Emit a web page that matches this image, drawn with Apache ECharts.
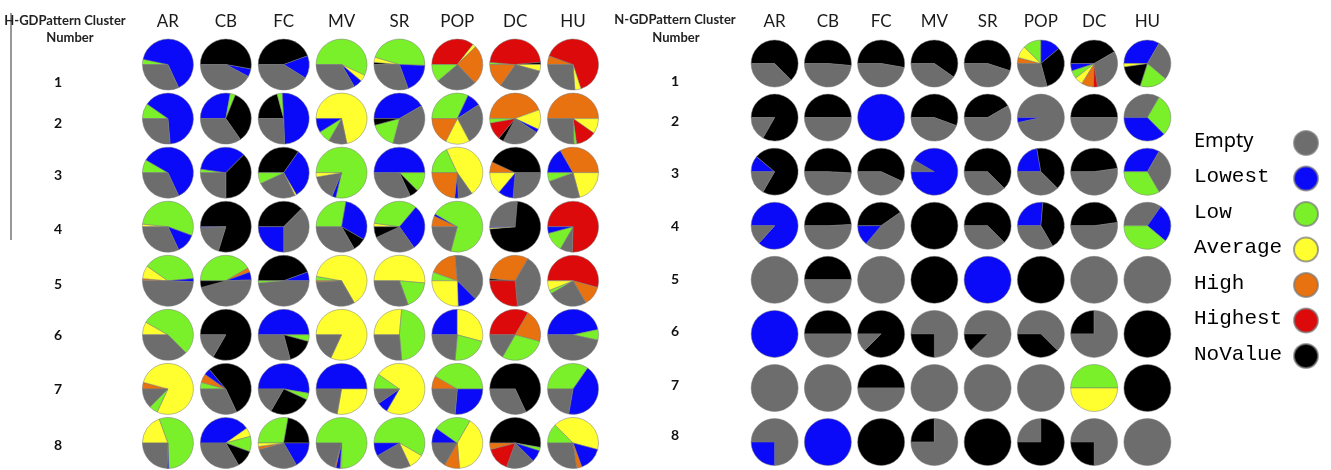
<!DOCTYPE html>
<html>
<head>
<meta charset="utf-8">
<script src="https://cdn.jsdelivr.net/npm/echarts@6/dist/echarts.min.js"></script>
<style>
    html, body { margin: 0; padding: 0; background: #fff; }
    #chart { width: 1331px; height: 470px; }
</style>
</head>
<body>
<div id="chart"></div>
<script>
// columns / rows of both pie matrices
const columns = ['AR', 'CB', 'FC', 'MV', 'SR', 'POP', 'DC', 'HU'];
const rowLabels = ['1', '2', '3', '4', '5', '6', '7', '8'];

// legend categories and the one-letter code used in the pie specs below
const categories = ['Empty', 'Lowest', 'Low', 'Average', 'High', 'Highest', 'NoValue'];
const codes = ['E', 'B', 'G', 'Y', 'O', 'R', 'K'];
const colors = ['#6d6d6d', '#0a0af8', '#7af02a', '#ffff30', '#e8720f', '#dc0a0a', '#000000'];

// each pie: slices clockwise from 9 o'clock, value in degrees (sum 360)
const hPies = [
    ['G12 B233 E115', 'K190 B18 E152', 'K160 B52 E148', 'G205 Y15 B20 E120', 'K5 Y12 G165 B68 E110', 'R128 Y8 O90 E94 G40', 'G5 R170 K5 Y15 E110 O55', 'O20 R232 Y14 E94'],
    ['G35 B230 E95', 'B100 G12 K123 E125', 'K75 G12 B181 E92', 'Y258 E42 G28 B32', 'B150 E135 G60 K15', 'G115 B32 E95 Y55 O63', 'O160 Y45 B8 E85 K12 R40 G10', 'O180 Y35 R47 G6 E92'],
    ['G30 B215 E115', 'G8 B127 K135 E90', 'K125 B115 Y4 E91 G25', 'G283 B9 E58 Y10', 'B180 G45 K20 E115', 'G65 Y170 E33 B8 O84', 'O25 K155 E95 B35 Y50', 'B60 O120 Y75 E85 G20'],
    ['Y6 G194 B45 E115', 'K287 E71 B2', 'K135 E135 B90', 'G100 B110 K30 E120', 'Y8 G122 B105 E100 K25', 'O25 B5 G255 E75', 'E95 K260 Y3 B2', 'R272 E28 G45 B15'],
    ['O5 Y30 G140 B7 E178', 'G150 O10 B18 E167 K15', 'K160 B20 E175 G5', 'G10 Y230 E117 O3', 'Y185 G65 E110', 'G20 O65 E140 B43 Y92', 'K5 O115 E145 R95', 'R195 O45 E90 G8 Y22'],
    ['Y30 G195 E135', 'K300 E60', 'B180 G15 K60 E105', 'Y295 E65', 'Y95 G170 E95', 'B90 Y105 G80 E85', 'R120 O75 G105 E60', 'B168 G24 E168'],
    ['O15 Y280 G20 E45', 'G15 O20 B15 K195 E115', 'B190 G15 K95 E60', 'B180 Y100 E80', 'G35 Y265 B25 E35', 'O30 G150 B95 E85', 'K245 E115', 'G125 B155 E80'],
    ['Y70 G198 B4 E88', 'B145 Y20 G35 K40 E120', 'G100 K80 B60 E105 O7 Y8', 'G270 Y3 B10 O3 E74', 'G210 Y35 E85 B30', 'B35 G85 Y145 O35 E60', 'K190 G8 B27 E65 R55 O15', 'G45 Y150 B55 O12 E98']
];

const nPies = [
    ['K225 E135', 'K185 E175', 'K190 E170', 'K215 E145', 'K198 E162', 'O15 Y30 G45 B50 K115 E105', 'K150 E112 R10 O30 Y20 G20 B18', 'B120 E100 G68 K64 Y8'],
    ['K300 E60', 'K180 E180', 'B360', 'K200 E160', 'K150 E210', 'E348 B12', 'K180 E180', 'E120 G105 B135'],
    ['B40 K260 E60', 'K183 E177', 'K205 E155', 'E30 B330', 'K225 E135', 'B80 K145 E135', 'K172 E188', 'B120 E120 G120'],
    ['B312 E48', 'K177 E183', 'K145 E165 B50', 'K360', 'K225 E135', 'B95 K145 E120', 'K172 E188', 'E125 B95 G140'],
    ['E360', 'K180 E180', 'E360', 'K360', 'B360', 'K360', 'E360', 'E360'],
    ['B360', 'K180 E180', 'K315 E45', 'E270 K90', 'E315 K45', 'E225 K135', 'K90 E270', 'K360'],
    ['E360', 'E360', 'K180 E180', 'E360', 'E360', 'E360', 'G180 Y180', 'K360'],
    ['E270 B90', 'B360', 'K360', 'K90 E270', 'K360', 'E90 K270', 'E270 K90', 'E360']
];

// row numbers sit a little off the pie centres in the original (px, + = down)
const hLabelShift = [18, 5, 3, 3, 4, 1, 1, 3];
const nLabelShift = [18, 4, 2, 1, 0, -2, -3, -7];

const chart = echarts.init(document.getElementById('chart'));
const sans = 'Lato, "Open Sans", sans-serif';

function headerAxes(i, labelMargin, rowMargin, shift) {
    const rich = {};
    shift.forEach((s, k) => {
        rich['r' + k] = {
            fontSize: 14, fontWeight: 'bold', color: '#111', fontFamily: sans,
            padding: s >= 0 ? [2 * s, 0, 0, 0] : [0, 0, -2 * s, 0]
        };
    });
    return {
        x: {
            type: 'category', gridIndex: i, position: 'top', data: columns,
            axisLine: { show: false }, axisTick: { show: false }, splitLine: { show: false },
            axisLabel: { margin: labelMargin, fontSize: 17, color: '#1a1a1a', fontFamily: sans }
        },
        y: {
            type: 'category', gridIndex: i, inverse: true, data: rowLabels,
            axisLine: { show: false }, axisTick: { show: false }, splitLine: { show: false },
            axisLabel: {
                margin: rowMargin, align: 'center',
                formatter: (v, k) => `{r${k}|${v}}`,
                rich: rich
            }
        }
    };
}
const left = headerAxes(0, 7.5, 81, hLabelShift);
const right = headerAxes(1, 6.5, 73, nLabelShift);

const headFont = 'bold 13px Lato, sans-serif';

chart.setOption({
    animation: false,
    grid: [
        { left: 139, top: 37.5, width: 463, height: 439 },
        { left: 748, top: 36.5, width: 426, height: 432.6 }
    ],
    xAxis: [left.x, right.x],
    yAxis: [left.y, right.y],
    legend: [
        {
            // text column
            orient: 'vertical', left: 1183, top: 123, itemGap: 9.5,
            itemWidth: 0, itemHeight: 24, icon: 'rect', itemStyle: { opacity: 0 },
            selectedMode: false, data: categories,
            formatter: n => n === 'Empty' ? `{s|${n}}` : `{m|${n}}`,
            textStyle: {
                rich: {
                    s: { fontFamily: '"Noto Sans", sans-serif', fontSize: 20, color: '#000', lineHeight: 24 },
                    m: { fontFamily: '"Liberation Mono", monospace', fontSize: 21, color: '#000', lineHeight: 24 }
                }
            }
        },
        {
            // dot column
            orient: 'vertical', left: 1288, top: 125, itemGap: 9.5,
            itemWidth: 24, itemHeight: 24, icon: 'circle',
            selectedMode: false, data: categories, formatter: () => ''
        }
    ],
    graphic: [
        { type: 'line', shape: { x1: 11, y1: 13, x2: 11, y2: 240 }, style: { stroke: '#333', lineWidth: 1 } },
        { type: 'text', x: 65, y: 21, style: { text: 'H-GDPattern Cluster', align: 'center', verticalAlign: 'middle', font: headFont, fill: '#222' } },
        { type: 'text', x: 70, y: 38, style: { text: 'Number', align: 'center', verticalAlign: 'middle', font: headFont, fill: '#222' } },
        { type: 'text', x: 675, y: 20, style: { text: 'N-GDPattern Cluster', align: 'center', verticalAlign: 'middle', font: headFont, fill: '#222' } },
        { type: 'text', x: 676, y: 38, style: { text: 'Number', align: 'center', verticalAlign: 'middle', font: headFont, fill: '#222' } }
    ]
});

// build one pie per cell, centred on the grid's category bands
function pieSeries(gridIndex, pies, radius) {
    const out = [];
    pies.forEach((row, r) => {
        row.forEach((spec, c) => {
            const center = chart.convertToPixel({ gridIndex: gridIndex }, [c, r]);
            const data = spec.split(' ').map(tok => {
                const k = codes.indexOf(tok[0]);
                return { name: categories[k], value: +tok.slice(1), itemStyle: { color: colors[k] } };
            });
            out.push({
                type: 'pie',
                center: center,
                radius: radius,
                startAngle: 180,
                clockwise: true,
                silent: true,
                avoidLabelOverlap: false,
                label: { show: false },
                labelLine: { show: false },
                emphasis: { disabled: true },
                itemStyle: { borderColor: 'rgba(120,120,120,0.7)', borderWidth: 0.7 },
                data: data
            });
        });
    });
    return out;
}

chart.setOption({
    series: pieSeries(0, hPies, 25.5).concat(pieSeries(1, nPies, 23.5))
});
</script>
</body>
</html>
